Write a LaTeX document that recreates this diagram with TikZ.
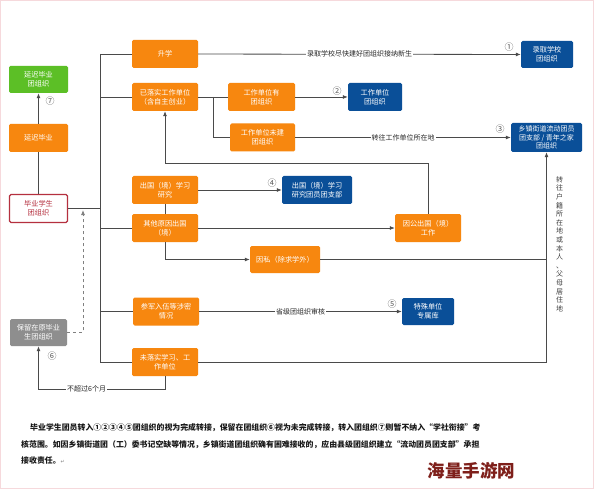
\documentclass[tikz,border=0pt]{standalone}
\usepackage{fontspec}
\setmainfont{Noto Sans CJK SC}
\newfontfamily\symfont{DejaVu Sans}
\usetikzlibrary{arrows.meta}
\definecolor{og}{HTML}{F7870F}
\definecolor{bl}{HTML}{0A4F98}
\definecolor{gr}{HTML}{5CBF26}
\definecolor{gy}{HTML}{8E8E8E}
\definecolor{rd}{HTML}{B5303F}
\definecolor{ln}{HTML}{4A4A4A}
\definecolor{wm}{HTML}{7E1F1A}
\definecolor{frame}{HTML}{F6D9DC}
\tikzset{
  box/.style={minimum height=28, inner sep=1, align=center, font=\fontsize{7.2}{8.8}\selectfont, text=white, rounded corners=1.5},
  ob/.style={box, fill=og, minimum width=66},
  bb/.style={box, fill=bl},
  conn/.style={draw=ln, line width=0.8},
  arr/.style={conn, -{Latex[length=5,width=4]}},
  lab/.style={font=\fontsize{7}{8}\selectfont, text=black!85, fill=white, inner sep=1},
  num/.style={font=\fontsize{9}{9}\selectfont, text=black!65, inner sep=0},
  para/.style={anchor=base west, inner sep=0, font=\fontsize{7.9}{8}\selectfont\bfseries, text=black!90}
}
\begin{document}
\begin{tikzpicture}[x=1pt,y=-1pt]
\useasboundingbox (0,0) rectangle (594,489);
\fill[white] (0,0) rectangle (594,489);
\draw[frame, line width=1.2] (0.6,0.6) rectangle (593.4,488.4);

% nodes
\node[ob] (shengxue) at (165,54) {升学};
\node[ob] (yiluoshi) at (165,97) {已落实工作单位\\（含自主创业）};
\node[ob, minimum width=67] (youtuan) at (261.5,97) {工作单位有\\团组织};
\node[ob, minimum width=65] (weijian) at (262.5,137.5) {工作单位未建\\团组织};
\node[bb, minimum width=54] (dwtuan) at (375,97) {工作单位\\团组织};
\node[bb, minimum width=52, minimum height=27] (luqu) at (547,54.5) {录取学校\\团组织};
\node[bb, minimum width=71, minimum height=29, font=\fontsize{7}{8.4}\selectfont] (xiangzhen) at (546.5,137.5) {乡镇街道流动团员\\团支部 / 青年之家\\团组织};
\node[box, fill=gr, minimum width=59, minimum height=27] (yanchituan) at (38.5,79.5) {延迟毕业\\团组织};
\node[ob, minimum width=59] (yanchi) at (38.5,138) {延迟毕业};
\node[box, fill=white, draw=rd, line width=1.2, text=rd, minimum width=58, minimum height=28] (biye) at (38.5,208.5) {毕业学生\\团组织};
\node[ob] (chuguoxx) at (165,190) {出国（境）学习\\研究};
\node[ob] (qita) at (165,228) {其他原因出国\\（境）};
\node[bb, minimum width=70] (cgtzb) at (317,190) {出国（境）学习\\研究团员团支部};
\node[ob, minimum width=70, minimum height=27] (yinsi) at (285,259.5) {因私（除求学外）};
\node[ob] (yingong) at (428,228) {因公出国（境）\\工作};
\node[ob] (canjun) at (166,311.5) {参军入伍等涉密\\情况};
\node[bb, minimum width=52, minimum height=27] (teshu) at (428,311.5) {特殊单位\\专属库};
\node[ob] (weiluoshi) at (165,362) {未落实学习、工\\作单位};
\node[box, fill=gy, minimum width=57, minimum height=27] (baoliu) at (38.5,332.5) {保留在原毕业\\生团组织};

% trunk
\coordinate (t0) at (100,54);
\draw[conn] (biye.east) -- (biye.east -| t0);
\draw[conn] (shengxue.west -| t0) -- (weiluoshi.west -| t0);
\foreach \n in {shengxue,yiluoshi,qita,canjun,weiluoshi}
  \draw[conn] (\n.west -| t0) -- (\n.west);
\draw[conn] (chuguoxx) -- (qita);

% upper branches
\draw[arr] (shengxue) -- node[lab]{录取学校尽快建好团组织接纳新生} (luqu);
\node[num] (n1) at (509,47.5) {①};
\draw[conn] (yiluoshi) -- (youtuan);
\coordinate (b1) at (213,97);
\draw[conn] (b1) |- (weijian.west);
\draw[arr] (youtuan) -- (dwtuan);
\node[num] (n2) at (337,91.5) {②};
\draw[arr] (weijian) -- node[lab]{转往工作单位所在地} (xiangzhen);
\node[num] (n3) at (500,129.5) {③};

% abroad
\draw[arr] (chuguoxx) -- (cgtzb);
\node[num] (n4) at (272,183.5) {④};
\draw[arr] (qita) -- (yingong);
\draw[arr] (qita.south) |- (yinsi.west);
\coordinate (c1) at (428,163);
\draw[arr] (yingong.north) -- (c1) -| (yiluoshi.south);

% right side
\draw[arr] (weiluoshi.east) -| (xiangzhen.south);
\draw[conn] (yinsi.east) -- (yinsi.east -| xiangzhen.south);
\node[font=\fontsize{7}{8.6}\selectfont, text=black!75, align=center, inner sep=0] (vlab) at (559.5,244) {转\\往\\户\\籍\\所\\在\\地\\或\\本\\人\\、\\父\\母\\居\\住\\地};

% military
\draw[arr] (canjun) -- node[lab]{省级团组织审核} (teshu);
\node[num] (n5) at (392,304.5) {⑤};

% retention
\coordinate (d1) at (165,389);
\coordinate (d2) at (38.5,389);
\draw[arr] (weiluoshi.south) -- (d1) -- node[lab, pos=0.62]{不超过6个月} (d2) -- (baoliu.south);
\node[num] (n6) at (52,356.5) {⑥};
\coordinate (e1) at (83,332.5);
\coordinate (e2) at (83,210);
\draw[arr, draw=gray, dashed] (baoliu.east) -- (e1) -- (e2);

% delayed graduation
\draw[conn] (biye) -- (yanchi);
\draw[arr] (yanchi) -- (yanchituan);
\node[num] (n7) at (50,101.5) {⑦};

% paragraph
\node[para] (p1) at (30,430.5) {毕业学生团员转入①②③④⑤团组织的视为完成转接，保留在团组织⑥视为未完成转接，转入团组织⑦则暂不纳入“学社衔接”考};
\node[para] (p2) at (21,447) {核范围。如因乡镇街道团（工）委书记空缺等情况，乡镇街道团组织确有困难接收的，应由县级团组织建立“流动团员团支部”承担};
\node[para] (p3) at (21,463.5) {接收责任。{\symfont\fontsize{5}{5}\selectfont\mdseries\color{gray}↵}};

% watermark
\node[font=\fontsize{17.5}{18}\selectfont\bfseries, text=wm, inner sep=0] (wmk) at (471.5,471) {海量手游网};
\end{tikzpicture}
\end{document}
